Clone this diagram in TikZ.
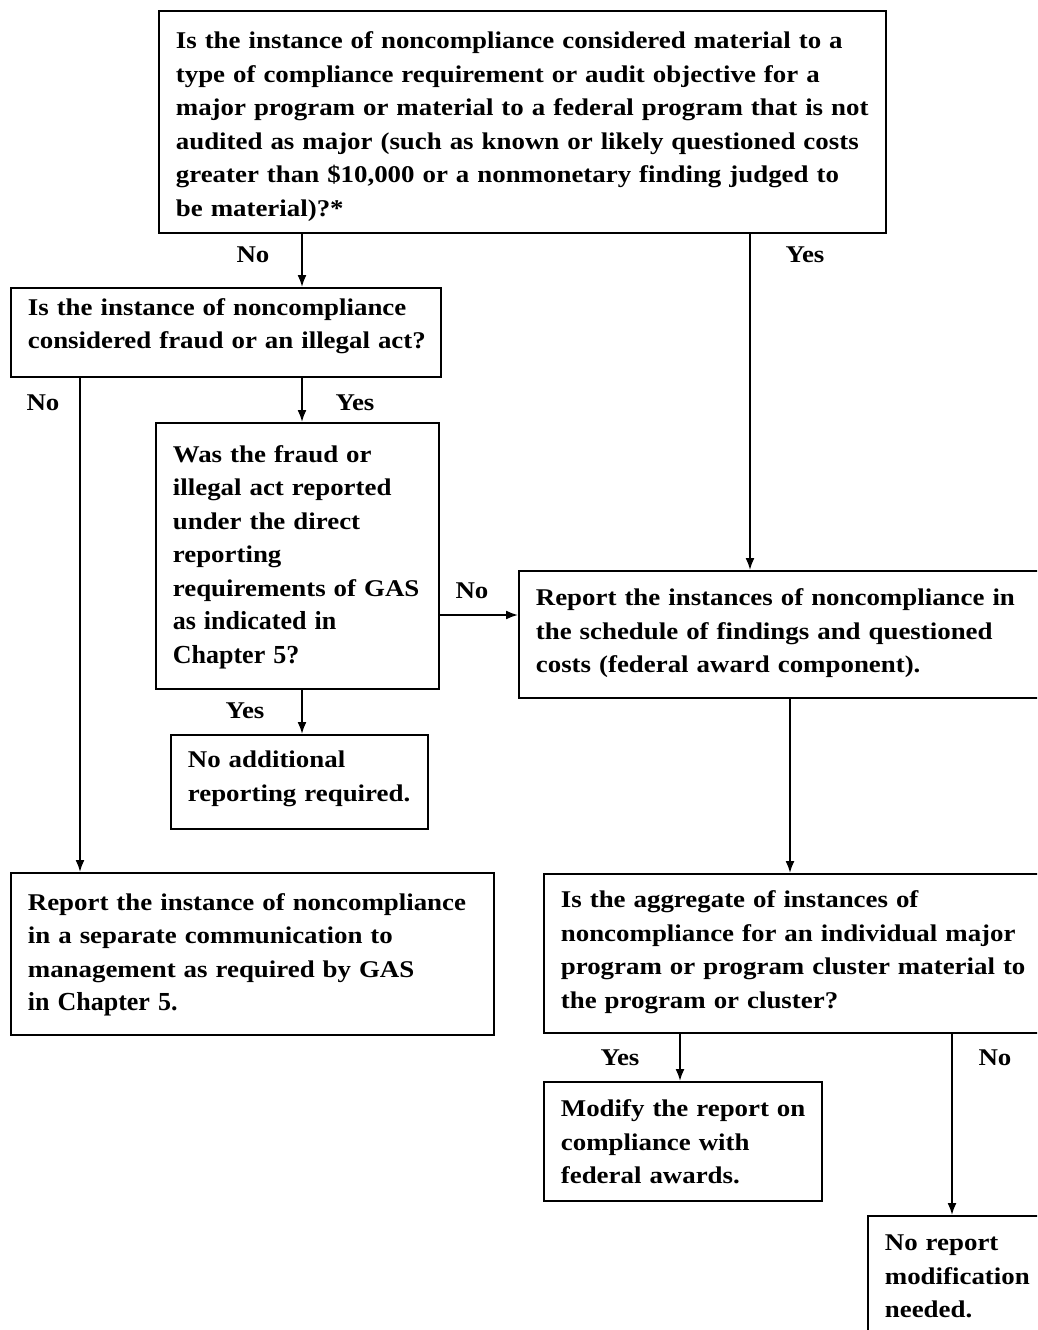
\documentclass[tikz,border=0pt]{standalone}
\usepackage{fontspec}
\setmainfont{Liberation Serif}
\newfontfamily\bodyfont{Liberation Serif}[FakeStretch=1.12]
\newfontfamily\plainfont{Liberation Serif}
\usetikzlibrary{arrows.meta}
\newcommand\boxlines[1]{\begin{tabular}{@{}l@{}}#1\end{tabular}}
\newcommand\bigt[1]{{\plainfont\bfseries\fontsize{26pt}{33.5pt}\selectfont #1}}
\newcommand\topgap[1]{\rule{0pt}{#1}}
\newcommand\botgap[1]{\rule[-#1]{0pt}{0pt}}
\tikzset{
  txt/.style={font=\bodyfont\bfseries\fontsize{24pt}{33.5pt}\selectfont},
  flowbox/.style={txt, draw=black, line width=1.8pt, anchor=north west, align=left,
    inner xsep=17pt, inner ysep=0pt},
  arr/.style={line width=1.8pt, -{Latex[length=12pt,width=9pt]}},
  lbl/.style={txt, inner sep=0pt}
}
\begin{document}
\begin{tikzpicture}[x=1pt,y=-1pt]
\useasboundingbox (0,0) rectangle (1037,1330);
\clip (0,0) rectangle (1037,1330);
\fill[white] (0,0) rectangle (1037,1330);

\node[flowbox, minimum width=727pt, minimum height=222pt, text width=693pt] (q1) at (158,10)
  {\boxlines{\topgap{31.5pt}Is the instance of noncompliance considered material to a\\
  type of compliance requirement or audit objective for a\\
  major program or material to a federal program that is not\\
  audited as major (such as known or likely questioned costs\\
  greater than \$10,000 or a nonmonetary finding judged to\\
  be material)?*}};

\node[flowbox, minimum width=430pt, minimum height=89pt, text width=396pt] (q2) at (10,287)
  {\boxlines{Is the instance of noncompliance\\ considered fraud or an illegal act?\botgap{24pt}}};

\node[flowbox, minimum width=283pt, minimum height=266pt, text width=249pt] (q3) at (155,422)
  {\boxlines{Was the fraud or\\ illegal act reported\\ under the direct\\ reporting\\
  requirements of GAS\\ \bigt{as indicated in}\\ \bigt{Chapter 5?}}};

\node[flowbox, minimum width=257pt, minimum height=94pt, text width=223pt] (r4) at (170,734)
  {\boxlines{No additional\\ reporting required.\botgap{18pt}}};

\node[flowbox, minimum width=483pt, minimum height=162pt, text width=449pt] (r5) at (10,872)
  {\boxlines{Report the instance of noncompliance\\ in a separate communication to\\
  management as required by GAS\\ \bigt{in Chapter 5.}}};

\node[flowbox, minimum width=540pt, minimum height=127pt, text width=506pt] (r6) at (518,570)
  {\boxlines{Report the instances of noncompliance in\\ the schedule of findings and questioned\\
  costs (federal award component).\botgap{14pt}}};

\node[flowbox, minimum width=520pt, minimum height=159pt, text width=486pt] (q7) at (543,873)
  {\boxlines{Is the aggregate of instances of\\ noncompliance for an individual major\\
  program or program cluster material to\\ the program or cluster?\botgap{14pt}}};

\node[flowbox, minimum width=278pt, minimum height=119pt, text width=244pt] (r8) at (543,1081)
  {\boxlines{\topgap{27.5pt}Modify the report on\\ compliance with\\ federal awards.}};

\node[flowbox, minimum width=200pt, minimum height=123pt, text width=166pt] (r9) at (867,1215)
  {\boxlines{No report\\ modification\\ needed.}};

\coordinate (c80) at (80,0);
\coordinate (c302) at (302,0);
\coordinate (c750) at (750,0);
\coordinate (c790) at (790,0);
\coordinate (c680) at (680,0);
\coordinate (c952) at (952,0);
\coordinate (h615) at (0,615);

\draw[arr] (q1.south -| c302) -- (q2.north -| c302);
\draw[arr] (q1.south -| c750) -- (r6.north -| c750);
\draw[arr] (q2.south -| c302) -- (q3.north -| c302);
\draw[arr] (q2.south -| c80) -- (r5.north -| c80);
\draw[arr] (q3.east |- h615) -- (r6.west |- h615);
\draw[arr] (q3.south -| c302) -- (r4.north -| c302);
\draw[arr] (r6.south -| c790) -- (q7.north -| c790);
\draw[arr] (q7.south -| c680) -- (r8.north -| c680);
\draw[arr] (q7.south -| c952) -- (r9.north -| c952);

\node[lbl] (l1) at (253,255) {No};
\node[lbl] (l2) at (805,255) {Yes};
\node[lbl] (l3) at (355,403) {Yes};
\node[lbl] (l4) at (43,403) {No};
\node[lbl] (l5) at (472,591) {No};
\node[lbl] (l6) at (245,711) {Yes};
\node[lbl] (l7) at (620,1058) {Yes};
\node[lbl] (l8) at (995,1058) {No};
\end{tikzpicture}
\end{document}
